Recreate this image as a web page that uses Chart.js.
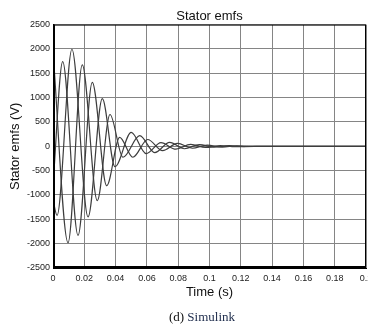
<!DOCTYPE html>
<html>
<head>
<meta charset="utf-8">
<script src="https://cdn.jsdelivr.net/npm/chart.js@4/dist/chart.umd.min.js"></script>
<style>
  html, body { margin: 0; padding: 0; background: #fff; overflow: hidden; width: 368px; height: 325px; }
  #wrap { position: relative; width: 368px; height: 325px; overflow: hidden; }
  canvas { position: absolute; left: 0; top: 0; }
  #caption { position: absolute; left: 0; width: 404px; top: 309px; text-align: center;
             font-family: "Liberation Serif", "DejaVu Serif", serif; font-size: 13px; color: #111; }
  #caption span { color: #22304f; }
</style>
</head>
<body>
<div id="wrap">
  <canvas id="c" width="380" height="325"></canvas>
  <div id="caption">(d) <span>Simulink</span></div>
</div>
<script>
// Tick values
const xTickValues = [0, 0.02, 0.04, 0.06, 0.08, 0.1, 0.12, 0.14, 0.16, 0.18, 0.2];
const yTickValues = [-2500, -2000, -1500, -1000, -500, 0, 500, 1000, 1500, 2000, 2500];

// Phase A (extrema)
const phaseA_t = [0, 0.0026, 0.0121, 0.0224, 0.0315, 0.0396, 0.0500, 0.0595, 0.0690, 0.0785, 0.0880, 0.0975, 0.1070, 0.1165, 0.1300, 0.2000];
const phaseA_v = [-1100, -1420, 1994, -1450, 980, -420, 285, -150, 75, -60, 40, -25, 15, -8, 0, 0];
// Phase B
const phaseB_t = [0, 0.0096, 0.0187, 0.0283, 0.0364, 0.0447, 0.0554, 0.0650, 0.0745, 0.0840, 0.0935, 0.1030, 0.1125, 0.1220, 0.1350, 0.2000];
const phaseB_v = [1945, -1980, 1673, -1115, 653, -225, 218, -130, 80, -50, 35, -20, 12, -6, 0, 0];
// Phase C
const phaseC_t = [0, 0.0062, 0.0160, 0.0251, 0.0343, 0.0426, 0.0510, 0.0605, 0.0700, 0.0795, 0.0890, 0.0985, 0.1080, 0.1175, 0.1300, 0.2000];
const phaseC_v = [-800, 1740, -1830, 1312, -810, 185, -225, 140, -90, 60, -40, 25, -15, 8, 0, 0];

const toPts = (ts, vs) => ts.map((t, i) => ({ x: t, y: vs[i] }));

const lineStyle = {
  borderColor: '#3d3d3d',
  borderWidth: 1.2,
  pointRadius: 0,
  fill: false,
  cubicInterpolationMode: 'monotone'
};

const frame = {
  id: 'frame',
  afterDatasetsDraw(chart) {
    const { ctx, chartArea: a } = chart;
    ctx.save();
    ctx.strokeStyle = '#000';
    ctx.lineWidth = 1;
    ctx.strokeRect(a.left + 0.5, a.top + 0.5, a.right - a.left - 1, a.bottom - a.top - 1);
    ctx.lineWidth = 2;
    ctx.beginPath();
    ctx.moveTo(a.left + 1, a.top); ctx.lineTo(a.left + 1, a.bottom - 1); ctx.lineTo(a.right, a.bottom - 1);
    ctx.stroke();
    ctx.restore();
  }
};

new Chart(document.getElementById('c'), {
  type: 'line',
  data: {
    datasets: [
      Object.assign({ label: 'Phase A', data: toPts(phaseA_t, phaseA_v) }, lineStyle),
      Object.assign({ label: 'Phase B', data: toPts(phaseB_t, phaseB_v) }, lineStyle),
      Object.assign({ label: 'Phase C', data: toPts(phaseC_t, phaseC_v) }, lineStyle)
    ]
  },
  options: {
    responsive: false,
    animation: false,
    layout: { padding: { left: 0, right: 14, top: 0, bottom: 0 } },
    plugins: {
      legend: { display: false },
      tooltip: { enabled: false },
      title: {
        display: true,
        text: 'Stator emfs',
        fullSize: false,
        color: '#111',
        font: { family: 'Liberation Sans, Arial, sans-serif', size: 13, weight: 'normal' },
        padding: { top: 9, bottom: 0 }
      }
    },
    scales: {
      x: {
        type: 'linear',
        min: 0, max: 0.2,
        afterBuildTicks: s => { s.ticks = xTickValues.map(v => ({ value: v })); },
        afterFit: s => { s.height = 57; },
        ticks: {
          color: '#222',
          padding: 5,
          maxRotation: 0,
          autoSkip: false,
          font: { family: 'Liberation Sans, Arial, sans-serif', size: 9 },
          callback: v => String(+Number(v).toFixed(2))
        },
        grid: { color: '#858585', lineWidth: 1, drawTicks: false },
        border: { color: '#000', width: 1 },
        title: {
          display: true,
          text: 'Time (s)',
          color: '#111',
          font: { family: 'Liberation Sans, Arial, sans-serif', size: 13 },
          padding: { top: 0, bottom: 25 }
        }
      },
      y: {
        type: 'linear',
        min: -2500, max: 2500,
        afterBuildTicks: s => { s.ticks = yTickValues.map(v => ({ value: v })); },
        afterFit: s => { s.width = 53; },
        ticks: {
          color: '#222',
          padding: 3,
          autoSkip: false,
          font: { family: 'Liberation Sans, Arial, sans-serif', size: 9 },
          callback: v => String(v)
        },
        grid: { color: '#858585', lineWidth: 1, drawTicks: false },
        border: { color: '#000', width: 1 },
        title: {
          display: true,
          text: 'Stator emfs (V)',
          color: '#111',
          font: { family: 'Liberation Sans, Arial, sans-serif', size: 13 },
          padding: { top: 8, bottom: 0 }
        }
      }
    }
  },
  plugins: [frame]
});
</script>
</body>
</html>
